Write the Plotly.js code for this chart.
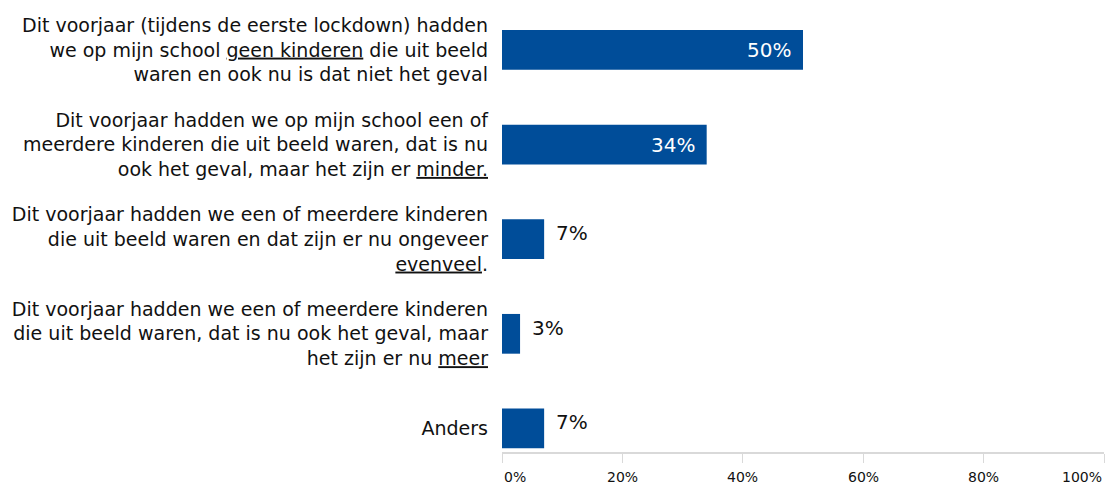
<!DOCTYPE html>
<html>
<head>
<meta charset="utf-8">
<script src="https://cdn.plot.ly/plotly-3.0.1.min.js"></script>
<style>
  html, body { margin: 0; padding: 0; background: #ffffff; }
  #chart { width: 1111px; height: 486px; }
</style>
</head>
<body>
<div id="chart"></div>
<script>
// ---- data ----
const categories = [
  'Dit voorjaar (tijdens de eerste lockdown) hadden<br>we op mijn school <u>geen kinderen</u> die uit beeld<br>waren en ook nu is dat niet het geval',
  'Dit voorjaar hadden we op mijn school een of<br>meerdere kinderen die uit beeld waren, dat is nu<br>ook het geval, maar het zijn er <u>minder.</u>',
  'Dit voorjaar hadden we een of meerdere kinderen<br>die uit beeld waren en dat zijn er nu ongeveer<br><u>evenveel</u>.',
  'Dit voorjaar hadden we een of meerdere kinderen<br>die uit beeld waren, dat is nu ook het geval, maar<br>het zijn er nu <u>meer</u>',
  'Anders'
];
const values = [50, 34, 7, 3, 7];
const valueLabels = ['50%', '34%', '7%', '3%', '7%'];
const tickValues = [0, 20, 40, 60, 80, 100];
const tickLabels = ['0%', '20%', '40%', '60%', '80%', '100%'];

// ---- styling ----
const barColor = '#004d99';
const textColor = '#111111';
const fontFamily = '"DejaVu Sans", Verdana, sans-serif';

const ids = categories.map((_, i) => 'c' + i);

const trace = {
  type: 'bar',
  orientation: 'h',
  y: ids,
  x: values,
  marker: { color: barColor, line: { width: 0 } },
  width: 0.42,
  hoverinfo: 'skip'
};

const annotations = [];
values.forEach((v, i) => {
  const inside = v > 20;
  annotations.push({
    x: v, y: ids[i], xref: 'x', yref: 'y',
    text: valueLabels[i],
    showarrow: false,
    xanchor: inside ? 'right' : 'left',
    xshift: inside ? -10 : 10,
    yshift: inside ? 0 : 6,
    font: { family: fontFamily, size: 20, color: inside ? '#ffffff' : textColor }
  });
});
tickValues.forEach((v, i) => {
  annotations.push({
    x: v, y: 0, xref: 'x', yref: 'paper',
    yanchor: 'top', yshift: -15,
    xanchor: i === 0 ? 'left' : (i === tickValues.length - 1 ? 'right' : 'center'),
    text: tickLabels[i],
    showarrow: false,
    font: { family: fontFamily, size: 14, color: textColor }
  });
});

const layout = {
  width: 1111,
  height: 486,
  margin: { l: 502, r: 7, t: 2, b: 34, pad: 0 },
  paper_bgcolor: '#ffffff',
  plot_bgcolor: '#ffffff',
  showlegend: false,
  font: { family: fontFamily, color: textColor },
  xaxis: {
    range: [0, 100],
    tickvals: tickValues,
    showticklabels: false,
    ticks: 'outside',
    ticklen: 9,
    tickcolor: '#d9d9d9',
    tickwidth: 1,
    showline: true,
    linecolor: '#d9d9d9',
    linewidth: 2,
    showgrid: false,
    zeroline: false,
    fixedrange: true
  },
  yaxis: {
    type: 'category',
    categoryorder: 'array',
    categoryarray: ids,
    tickvals: ids,
    ticktext: categories,
    range: [4.249, -0.507],
    showline: false,
    showgrid: false,
    zeroline: false,
    ticks: '',
    ticklabelstandoff: 13,
    tickfont: { family: fontFamily, size: 19, color: textColor },
    fixedrange: true
  },
  annotations: annotations
};

Plotly.newPlot('chart', [trace], layout, { staticPlot: true, displayModeBar: false });
</script>
</body>
</html>
